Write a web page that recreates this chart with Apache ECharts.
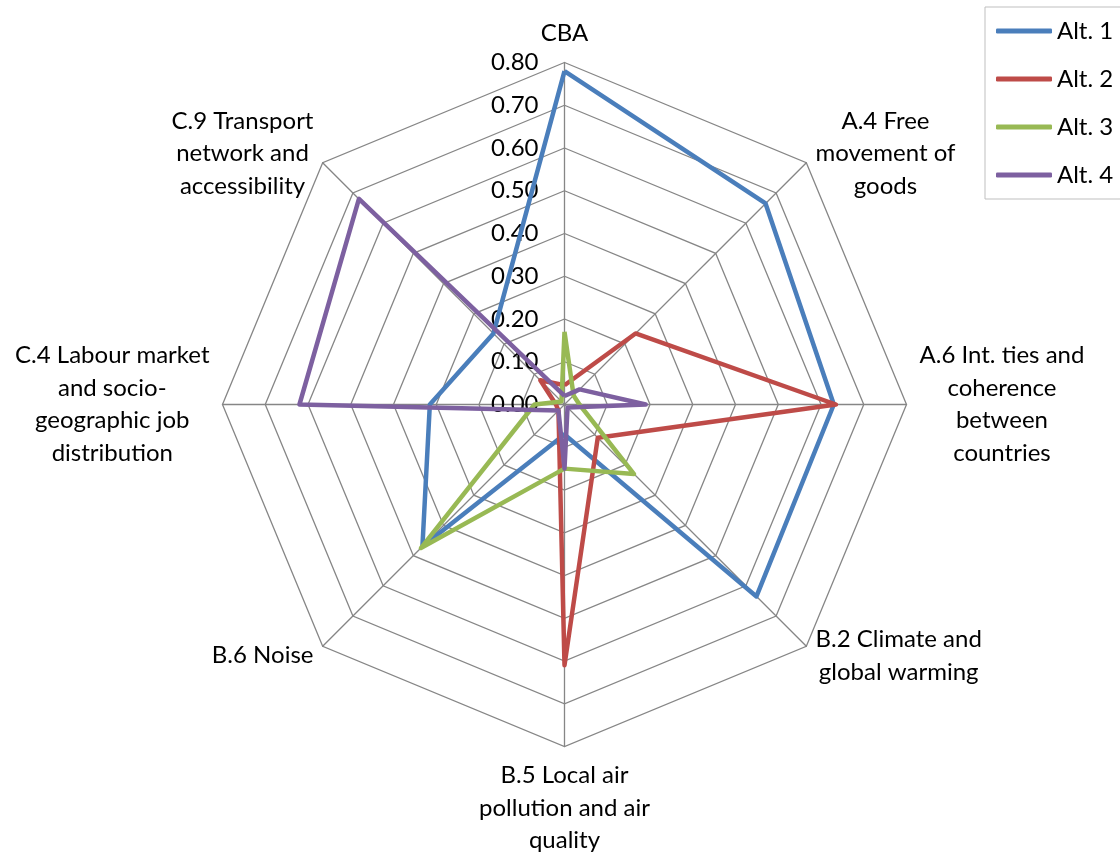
<!DOCTYPE html>
<html>
<head>
<meta charset="utf-8">
<style>
  html, body { margin: 0; padding: 0; background: #fff; }
  #chart { width: 1120px; height: 855px; }
</style>
<script src="https://cdn.jsdelivr.net/npm/echarts@6/dist/echarts.min.js"></script>
</head>
<body>
<div id="chart"></div>
<script>
// Criteria in display order (clockwise from the top)
const criteria = [
  'CBA',
  'A.4 Free\nmovement of\ngoods',
  'A.6 Int. ties and\ncoherence\nbetween\ncountries',
  'B.2 Climate and\nglobal warming',
  'B.5 Local air\npollution and air\nquality',
  'B.6 Noise',
  'C.4 Labour market\nand socio-\ngeographic job\ndistribution',
  'C.9 Transport\nnetwork and\naccessibility'
];

const seriesNames = ['Alt. 1', 'Alt. 2', 'Alt. 3', 'Alt. 4'];

// Scores per alternative, same order as criteria
const alt1 = [0.78, 0.665, 0.63, 0.635, 0.07, 0.47, 0.315, 0.235];
const alt2 = [0.045, 0.235, 0.635, 0.11, 0.61, 0.02, 0.02, 0.08];
const alt3 = [0.17, 0.03, 0.035, 0.23, 0.15, 0.475, 0.07, 0.01];
const alt4 = [0.02, 0.05, 0.19, 0.01, 0.15, 0.02, 0.62, 0.68];

const scaleMin = 0;
const scaleMax = 0.8;
const scaleSplits = 8;

const colors = ['#4A7EBB', '#BE4B48', '#98B954', '#7D60A0'];
const FONT = 'Lato';

// ECharts lays indicators out counter-clockwise, so reverse all but the first
function toRadarOrder(arr) {
  return [arr[0]].concat(arr.slice(1).reverse());
}

const indicator = toRadarOrder(criteria).map(function (name, i) {
  const ind = { name: name, min: scaleMin, max: scaleMax };
  if (i !== 0) ind.axisLabel = { show: false };
  return ind;
});

const values = [alt1, alt2, alt3, alt4];

const chart = echarts.init(document.getElementById('chart'), null, { renderer: 'canvas' });

chart.setOption({
  backgroundColor: '#ffffff',
  animation: false,
  color: colors,
  legend: {
    orient: 'vertical',
    left: 985,
    top: 7,
    padding: [12, 14, 12, 11],
    borderColor: '#BFBFBF',
    borderWidth: 1,
    backgroundColor: '#ffffff',
    itemWidth: 56,
    itemHeight: 5,
    itemGap: 24,
    icon: 'roundRect',
    textStyle: { fontFamily: FONT, fontSize: 24, color: '#000', lineHeight: 24 },
    data: seriesNames
  },
  radar: {
    center: [564.5, 404.5],
    radius: 342,
    startAngle: 90,
    shape: 'polygon',
    splitNumber: scaleSplits,
    indicator: indicator,
    axisName: {
      color: '#000',
      fontFamily: FONT,
      fontSize: 24,
      formatter: function (name) {
        return name.split('\n').map(function (l) { return '{c|' + l + '}'; }).join('\n');
      },
      rich: {
        c: { align: 'center', fontFamily: FONT, fontSize: 24, lineHeight: 32.5, color: '#000' }
      }
    },
    nameGap: 13,
    axisLine: { lineStyle: { color: '#868686', width: 1.3 } },
    splitLine: { lineStyle: { color: '#868686', width: 1.3 } },
    splitArea: { show: false },
    axisTick: { show: false },
    axisLabel: {
      show: true,
      color: '#000',
      fontFamily: FONT,
      fontSize: 24,
      margin: 26,
      formatter: function (v) { return v.toFixed(2); }
    }
  },
  series: [{
    type: 'radar',
    symbol: 'none',
    data: values.map(function (v, i) {
      return {
        name: seriesNames[i],
        value: toRadarOrder(v),
        lineStyle: { color: colors[i], width: 4.5, join: 'round' },
        itemStyle: { color: colors[i] }
      };
    })
  }]
});
</script>
</body>
</html>
